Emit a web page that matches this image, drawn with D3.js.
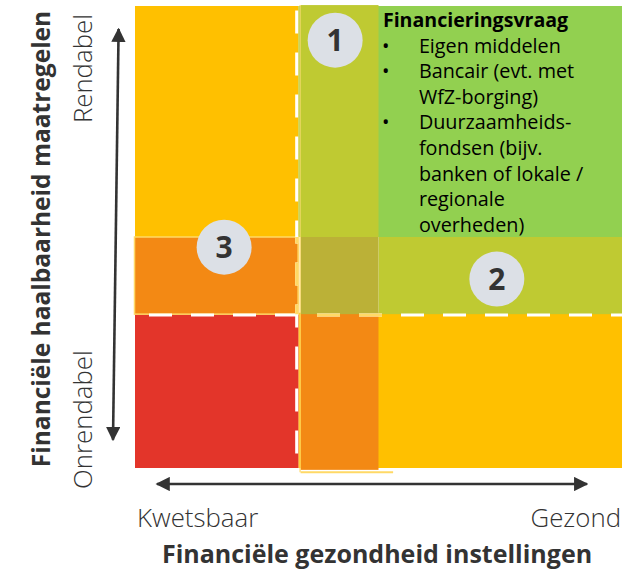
<!DOCTYPE html>
<html>
<head>
<meta charset="utf-8">
<script src="https://cdn.jsdelivr.net/npm/d3@7"></script>
<style>
  body { margin: 0; background: #fff; }
  text { font-family: "Open Sans", "Noto Sans", sans-serif; }
</style>
</head>
<body>
<div id="chart"></div>
<script>
// axis texts
var xTitle = "Financiële gezondheid instellingen";
var yTitle = "Financiële haalbaarheid maatregelen";
var xEnds = ["Kwetsbaar", "Gezond"];
var yEnds = ["Onrendabel", "Rendabel"];

// zones on a 0-100 scale (health x feasibility)
var zoneNames = ["onrendabel-kwetsbaar", "onrendabel-gezond", "rendabel-kwetsbaar", "rendabel-gezond",
                 "band1-top", "band1-bottom", "band3", "band2", "band-overlap"];
var zoneX = [[0, 33.6], [33.6, 100], [0, 33.6], [33.6, 100],
             [34, 50], [34, 50], [0, 33.6], [50, 100], [34, 50]];
var zoneY = [[0, 33.6], [0, 33.6], [50, 100], [50, 100],
             [50, 100.2], [-0.4, 33.6], [33.3, 50], [33.3, 50], [33.3, 50]];

// numbered markers
var markerLabels = ["1", "2", "3"];
var markerX = [41.1, 74.3, 18.3];
var markerY = [92.6, 40.9, 47.8];

// text box in the green zone
var boxTitle = "Financieringsvraag";
var boxItems = [
  ["Eigen middelen"],
  ["Bancair (evt. met", "WfZ-borging)"],
  ["Duurzaamheids-", "fondsen (bijv.", "banken of lokale /", "regionale", "overheden)"]
];

var colors = {
  "onrendabel-kwetsbaar": "#e3352a",
  "onrendabel-gezond": "#ffc000",
  "rendabel-kwetsbaar": "#ffc000",
  "rendabel-gezond": "#92d050",
  "band1-top": "#bfca32",
  "band1-bottom": "#f38914",
  "band3": "#f38914",
  "band2": "#bfca32",
  "band-overlap": "#bbb137"
};

var svg = d3.select("#chart").append("svg").attr("width", 637).attr("height", 571);

var x = d3.scaleLinear().domain([0, 100]).range([135, 622]);
var y = d3.scaleLinear().domain([0, 100]).range([468, 6]);

// zones
svg.append("g").selectAll("rect")
  .data(zoneNames)
  .enter().append("rect")
  .attr("x", function(d, i) { return x(zoneX[i][0]); })
  .attr("y", function(d, i) { return y(zoneY[i][1]); })
  .attr("width", function(d, i) { return x(zoneX[i][1]) - x(zoneX[i][0]); })
  .attr("height", function(d, i) { return y(zoneY[i][0]) - y(zoneY[i][1]); })
  .attr("fill", function(d) { return colors[d]; });

// pale outlines of the bands
svg.append("rect")
  .attr("x", x(0) - 0.5).attr("y", y(50))
  .attr("width", x(33.6) - x(0)).attr("height", y(33.3) - y(50))
  .attr("fill", "none").attr("stroke", "#ffd966").attr("stroke-width", 1.5);
svg.append("line")
  .attr("x1", x(34)).attr("x2", x(53)).attr("y1", y(-0.9)).attr("y2", y(-0.9))
  .attr("stroke", "#ffd966").attr("stroke-width", 2);
svg.append("line")
  .attr("x1", x(34) - 0.5).attr("x2", x(34) - 0.5).attr("y1", y(100.2)).attr("y2", y(-0.9))
  .attr("stroke", "#ffd966").attr("stroke-width", 1.2);

// dashed separators
var defs = svg.append("defs");
defs.append("clipPath").attr("id", "clipV")
  .append("rect").attr("x", 0).attr("width", 637).attr("y", y(50)).attr("height", y(33.3) - y(50));
defs.append("clipPath").attr("id", "clipH")
  .append("rect").attr("y", 0).attr("height", 571).attr("x", x(34)).attr("width", x(53) - x(34));

function vLine(g) {
  g.attr("x1", x(33.2)).attr("x2", x(33.2)).attr("y1", y(99)).attr("y2", y(0))
   .attr("stroke-width", 3).attr("stroke-dasharray", "23,19");
}
function hLine(g) {
  g.attr("x1", x(0)).attr("x2", x(100)).attr("y1", y(33.1)).attr("y2", y(33.1))
   .attr("stroke-width", 3).attr("stroke-dasharray", "23,19").attr("stroke-dashoffset", -14);
}
svg.append("line").call(vLine).attr("stroke", "#fff");
svg.append("line").call(hLine).attr("stroke", "#fff");
svg.append("line").call(vLine).attr("stroke", "#ffd966").attr("clip-path", "url(#clipV)");
svg.append("line").call(hLine).attr("stroke", "#ffd966").attr("clip-path", "url(#clipH)");

// markers
var mk = svg.append("g").selectAll("g")
  .data(markerLabels)
  .enter().append("g")
  .attr("transform", function(d, i) { return "translate(" + x(markerX[i]) + "," + y(markerY[i]) + ")"; });
mk.append("circle").attr("r", 27.5).attr("fill", "#dce0e6");
mk.append("text")
  .attr("text-anchor", "middle").attr("dy", "0.36em")
  .attr("font-size", 30).attr("font-weight", "bold").attr("fill", "#333")
  .text(function(d) { return d; });

// text box
var bx = x(50.9), lineH = 25.6;
var tb = svg.append("g").attr("font-size", 19.8).attr("fill", "#000");
tb.append("text").attr("x", bx).attr("y", 27).attr("font-weight", "bold")
  .attr("font-size", 19.6).text(boxTitle);
var row = 1;
boxItems.forEach(function(item) {
  tb.append("text").attr("x", bx - 1).attr("y", 27 + row * lineH).text("•");
  item.forEach(function(line) {
    tb.append("text").attr("x", bx + 36).attr("y", 27 + row * lineH).text(line);
    row++;
  });
});

// arrows
var mdef = defs.append("marker").attr("id", "head")
  .attr("viewBox", "0 0 10 10").attr("refX", 9).attr("refY", 5)
  .attr("markerWidth", 5.5).attr("markerHeight", 5.5).attr("orient", "auto-start-reverse")
  .attr("markerUnits", "strokeWidth");
mdef.append("path").attr("d", "M0,0L10,5L0,10z").attr("fill", "#333");

svg.append("line")
  .attr("x1", 118.6).attr("y1", y(95)).attr("x2", 113).attr("y2", y(6.1))
  .attr("stroke", "#333").attr("stroke-width", 2.6)
  .attr("marker-start", "url(#head)").attr("marker-end", "url(#head)");
svg.append("line")
  .attr("x1", x(4.5)).attr("y1", 484).attr("x2", x(92.8)).attr("y2", 484)
  .attr("stroke", "#333").attr("stroke-width", 2.6)
  .attr("marker-start", "url(#head)").attr("marker-end", "url(#head)");

// axis labels
var endSize = 25.8, endColor = "#333";
svg.append("text").attr("x", 137).attr("y", 527)
  .attr("font-size", endSize).attr("font-weight", 300).attr("fill", endColor).text(xEnds[0]);
svg.append("text").attr("x", 621).attr("y", 527).attr("text-anchor", "end")
  .attr("font-size", endSize).attr("font-weight", 300).attr("fill", endColor).text(xEnds[1]);
svg.append("text").attr("x", 377).attr("y", 563).attr("text-anchor", "middle")
  .attr("font-size", 25).attr("font-weight", "bold").attr("fill", "#333").text(xTitle);

svg.append("text").attr("transform", "translate(92,14) rotate(-90)").attr("text-anchor", "end")
  .attr("font-size", endSize).attr("font-weight", 300).attr("fill", endColor).text(yEnds[1]);
svg.append("text").attr("transform", "translate(92,489) rotate(-90)")
  .attr("font-size", endSize).attr("font-weight", 300).attr("fill", endColor).text(yEnds[0]);
svg.append("text").attr("transform", "translate(50,239) rotate(-90)").attr("text-anchor", "middle")
  .attr("font-size", 24.5).attr("font-weight", "bold").attr("fill", "#333").text(yTitle);
</script>
</body>
</html>
